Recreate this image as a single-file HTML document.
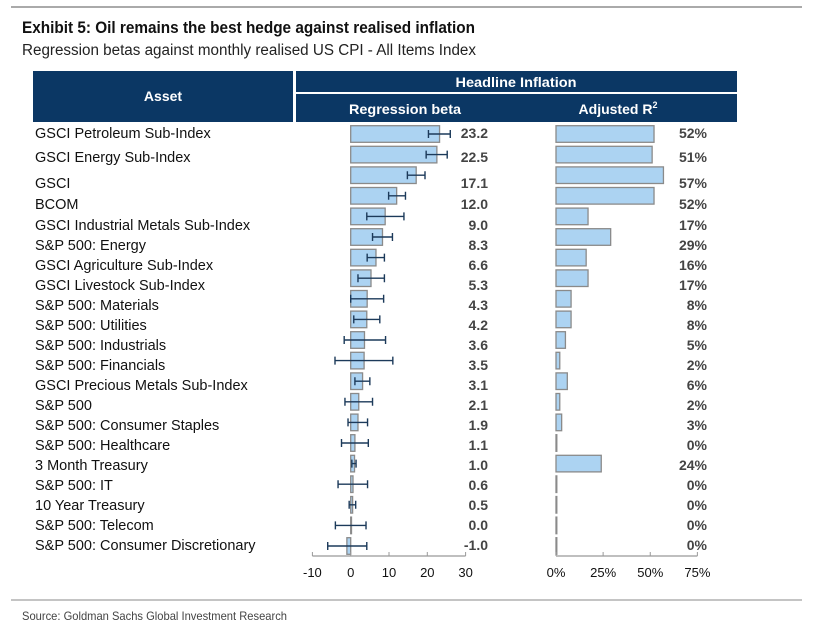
<!DOCTYPE html>
<html><head><meta charset="utf-8">
<style>
body{margin:0;background:#fff;}
svg{display:block;font-family:"Liberation Sans",Arial,sans-serif;}
.title{font-weight:bold;font-size:17px;fill:#111;}
.sub{font-size:15.5px;fill:#222;}
.hdr{font-weight:bold;font-size:14px;fill:#fff;}
.lab{font-size:14.5px;fill:#111;}
.val{font-weight:bold;font-size:14px;fill:#444;}
.tick{font-size:13px;fill:#111;}
.src{font-size:12px;fill:#444;}
</style></head>
<body>
<svg id="chart" width="816" height="629" viewBox="0 0 816 629">
  <line x1="11" y1="7" x2="802" y2="7" stroke="#aaa" stroke-width="2"/>
  <text class="title" x="22" y="33" textLength="453" lengthAdjust="spacingAndGlyphs">Exhibit 5: Oil remains the best hedge against realised inflation</text>
  <text class="sub" x="22" y="55" textLength="454" lengthAdjust="spacingAndGlyphs">Regression betas against monthly realised US CPI - All Items Index</text>

  <rect x="33" y="71" width="260" height="51" fill="#0b3764"/>
  <text class="hdr" x="163" y="101" text-anchor="middle">Asset</text>
  <rect x="296" y="71" width="441" height="21" fill="#0b3764"/>
  <text class="hdr" x="516" y="87" text-anchor="middle" textLength="121" lengthAdjust="spacingAndGlyphs">Headline Inflation</text>
  <rect x="296" y="94" width="441" height="28" fill="#0b3764"/>
  <text class="hdr" x="405" y="114" text-anchor="middle" textLength="112" lengthAdjust="spacingAndGlyphs">Regression beta</text>
  <text class="hdr" x="618" y="114" text-anchor="middle">Adjusted R<tspan font-size="9" dy="-6">2</tspan></text>

  <g id="rows"></g>

  <line x1="11" y1="600" x2="802" y2="600" stroke="#888" stroke-width="1"/>
  <text class="src" x="22" y="620" textLength="265" lengthAdjust="spacingAndGlyphs">Source: Goldman Sachs Global Investment Research</text>
</svg>
<script>
const categories=["GSCI Petroleum Sub-Index","GSCI Energy Sub-Index","GSCI","BCOM","GSCI Industrial Metals Sub-Index","S&P 500: Energy","GSCI Agriculture Sub-Index","GSCI Livestock Sub-Index","S&P 500: Materials","S&P 500: Utilities","S&P 500: Industrials","S&P 500: Financials","GSCI Precious Metals Sub-Index","S&P 500","S&P 500: Consumer Staples","S&P 500: Healthcare","3 Month Treasury","S&P 500: IT","10 Year Treasury","S&P 500: Telecom","S&P 500: Consumer Discretionary"];
const betas=[23.2,22.5,17.1,12.0,9.0,8.3,6.6,5.3,4.3,4.2,3.6,3.5,3.1,2.1,1.9,1.1,1.0,0.6,0.5,0.0,-1.0];
const errLow=[20.3,19.7,14.8,9.9,4.2,5.7,4.3,1.9,0.0,0.8,-1.7,-4.1,1.1,-1.5,-0.7,-2.4,0.3,-3.3,-0.4,-4.0,-6.0];
const errHigh=[26.0,25.2,19.4,14.3,13.9,10.9,8.8,8.8,8.6,7.6,9.1,11.0,5.0,5.7,4.4,4.6,1.4,4.4,1.3,4.0,4.2];
const r2=[52,51,57,52,17,29,16,17,8,8,5,2,6,2,3,0,24,0,0,0,0];
const betaTicks=[-10,0,10,20,30];
const r2Ticks=[0,25,50,75];

const NS="http://www.w3.org/2000/svg";
const svg=document.getElementById('rows');
function xb(v){return 350.7+v*3.83;}
function xr(v){return 556+v*1.885;}
function rowY(i){return 134+i*20.6;}
function labY(i){const t=[133,157,183,204];return i<4?t[i]:225+(i-4)*20;}
function mk(tag,attrs){const e=document.createElementNS(NS,tag);for(const k in attrs)e.setAttribute(k,attrs[k]);svg.appendChild(e);return e;}

categories.forEach((c,i)=>{
  const y=rowY(i), ly=labY(i)+5;
  let t=mk('text',{x:35,y:ly,class:'lab'});t.textContent=c;
  
  
  const b=betas[i];
  let r=mk('rect',{x:Math.min(xb(0),xb(b)),y:y-8.3,width:Math.max(Math.abs(xb(b)-xb(0)),0.8),height:16.6,fill:'#acd3f2',stroke:'#8a8a8a','stroke-width':1.3});
  
  
  let g=mk('path',{d:`M${xb(errLow[i])},${y}H${xb(errHigh[i])}M${xb(errLow[i])},${y-4}V${y+4}M${xb(errHigh[i])},${y-4}V${y+4}`,stroke:'#1c3a5a','stroke-width':1.4,fill:'none'});
  
  
  t=mk('text',{x:488,y:ly,class:'val','text-anchor':'end'});t.textContent=b.toFixed(1);
  
  
  r=mk('rect',{x:xr(0),y:y-8.3,width:Math.max(xr(r2[i])-xr(0),0.8),height:16.6,fill:'#acd3f2',stroke:'#8a8a8a','stroke-width':1.3});
  
  
  t=mk('text',{x:707,y:ly,class:'val','text-anchor':'end'});t.textContent=r2[i]+'%';
  
  
});
let a=mk('line',{x1:xb(-10),y1:556,x2:xb(30),y2:556,stroke:'#999','stroke-width':1.3});


betaTicks.forEach(v=>{
  let l=mk('line',{x1:xb(v),y1:552,x2:xb(v),y2:556,stroke:'#999'});
  
  
  let t=mk('text',{x:xb(v),y:577,class:'tick','text-anchor':'middle'});t.textContent=v;
  
  
});
a=mk('line',{x1:xr(0),y1:556,x2:xr(75),y2:556,stroke:'#999','stroke-width':1.3});


r2Ticks.forEach(v=>{
  let l=mk('line',{x1:xr(v),y1:552,x2:xr(v),y2:556,stroke:'#999'});
  
  
  let t=mk('text',{x:xr(v),y:577,class:'tick','text-anchor':'middle'});t.textContent=v+'%';
  
  
});
</script>
</body></html>
